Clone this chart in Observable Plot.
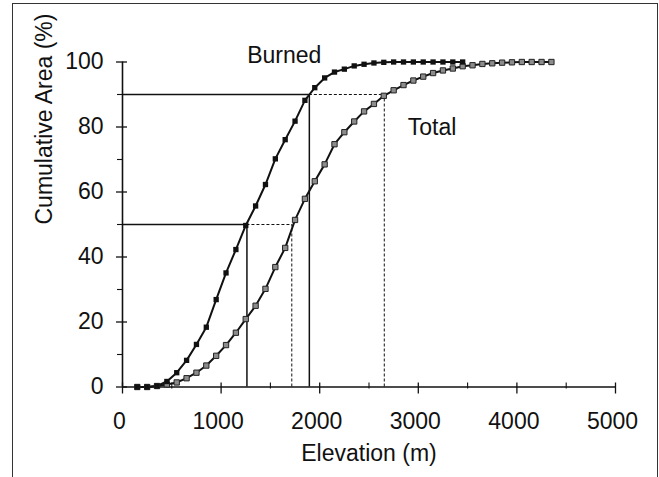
<!DOCTYPE html>
<html>
<head>
<meta charset="utf-8">
<script src="https://cdn.jsdelivr.net/npm/d3@7"></script>
<script src="https://cdn.jsdelivr.net/npm/@observablehq/plot@0.6"></script>
<style>
  html, body { margin: 0; padding: 0; background: #fff; overflow: hidden; }
  #wrap { position: relative; width: 659px; height: 477px; }
  #border { position: absolute; left: 12px; top: 3px; width: 644px; height: 520px; border: 1.5px solid #333; pointer-events: none; }
  #chart { position: absolute; left: 0; top: 0; }
</style>
</head>
<body>
<div id="wrap"><div id="border"></div><div id="chart"></div></div>
<script>
// Elevation bin centres (m)
const burnedElev = [150,250,350,450,550,650,750,850,950,1050,1150,1250,1350,1450,1550,1650,1750,1850,1950,2050,2150,2250,2350,2450,2550,2650,2750,2850,2950,3050,3150,3250,3350,3450];
const burnedPct  = [0,0,0.3,1.7,4.4,8.2,13.1,18.4,26.9,35.1,42.3,49.7,55.7,62.3,70.2,76.1,81.8,88.2,92.1,95.1,96.9,97.8,98.8,99.3,99.7,99.9,100,100,100,100,100,100,100,100];

const totalElev = [150,250,350,450,550,650,750,850,950,1050,1150,1250,1350,1450,1550,1650,1750,1850,1950,2050,2150,2250,2350,2450,2550,2650,2750,2850,2950,3050,3150,3250,3350,3450,3550,3650,3750,3850,3950,4050,4150,4250,4350];
const totalPct  = [0,0,0.3,0.8,1.4,2.7,4.4,6.6,9.6,12.9,16.7,20.9,25.0,30.2,36.9,42.8,51.4,57.9,63.3,68.5,74.7,78.4,81.7,84.8,87.1,89.6,91.3,92.9,94.3,95.5,96.6,97.4,98.0,98.7,99.0,99.4,99.6,99.8,99.9,100,100,100,100];

// Quantile reference lines (50% and 90% of area)
const quantileLevels = [50, 90];
const burnedQuantiles = [1262, 1895];
const totalQuantiles = [1717, 2655];

// Axis ticks
const xMajorTicks = [0, 1000, 2000, 3000, 4000, 5000];
const xMinorTicks = [500, 1500, 2500, 3500, 4500];
const yMajorTicks = [0, 20, 40, 60, 80, 100];
const yMinorTicks = [10, 30, 50, 70, 90];

// Series labels
const seriesNames = ["Burned", "Total"];
const seriesLabelX = [1640, 3140];
const seriesLabelY = [99.8, 77.4];

const burned = burnedElev.map((x, i) => ({x, y: burnedPct[i]}));
const total = totalElev.map((x, i) => ({x, y: totalPct[i]}));
const refs = quantileLevels.map((p, i) => ({p, b: burnedQuantiles[i], t: totalQuantiles[i]}));
const labels = seriesNames.map((name, i) => ({name, x: seriesLabelX[i], y: seriesLabelY[i]}));

const W = 659, H = 477;
const mL = 122, mR = 44, mT = 61.5, mB = 90.5;
const yPerPx = 100 / (H - mT - mB);
const xPerPx = 5000 / (W - mL - mR);
const ink = "#111";

const chart = Plot.plot({
  width: W,
  height: H,
  marginLeft: mL,
  marginRight: mR,
  marginTop: mT,
  marginBottom: mB,
  style: {fontFamily: "'Liberation Sans', Arial, Helvetica, sans-serif", fontSize: "23px", color: ink, background: "transparent"},
  x: {domain: [0, 5000], axis: null},
  y: {domain: [0, 100], axis: null},
  marks: [
    // axis lines
    Plot.ruleY([0], {stroke: ink, strokeWidth: 1.6}),
    Plot.ruleX([0], {stroke: ink, strokeWidth: 1.6}),
    // ticks
    Plot.ruleX(xMajorTicks, {y1: -7 * yPerPx, y2: 4 * yPerPx, stroke: ink, strokeWidth: 1.3}),
    Plot.ruleX(xMinorTicks, {y1: -2 * yPerPx, y2: 4 * yPerPx, stroke: ink, strokeWidth: 1.1}),
    Plot.ruleY(yMajorTicks, {x1: -6 * xPerPx, x2: 5 * xPerPx, stroke: ink, strokeWidth: 1.3}),
    Plot.ruleY(yMinorTicks, {x1: -5 * xPerPx, x2: 1 * xPerPx, stroke: ink, strokeWidth: 1.1}),
    // tick labels
    Plot.axisX({ticks: xMajorTicks, tickSize: 0, tickPadding: 26, tickFormat: d => String(d), label: null, dx: -3}),
    Plot.axisY({ticks: yMajorTicks, tickSize: 0, tickPadding: 19, tickFormat: d => String(d), label: null}),
    // axis titles
    Plot.text(["Elevation (m)"], {frameAnchor: "bottom", dy: 74, lineAnchor: "bottom", fontSize: 23, fill: ink}),
    Plot.text(["Cumulative Area (%)"], {frameAnchor: "left", dx: -78, rotate: -90, fontSize: 23, fill: ink}),
    // quantile reference lines
    Plot.ruleY(refs, {y: "p", x1: 0, x2: "b", stroke: ink, strokeWidth: 1.3}),
    Plot.ruleX(refs, {x: "b", y1: 0, y2: "p", stroke: ink, strokeWidth: 1.5}),
    Plot.ruleY(refs, {y: "p", x1: "b", x2: "t", stroke: ink, strokeWidth: 1, strokeDasharray: "3,2"}),
    Plot.ruleX(refs, {x: "t", y1: 0, y2: "p", stroke: ink, strokeWidth: 1, strokeDasharray: "3,2"}),
    // curves
    Plot.line(total, {x: "x", y: "y", stroke: ink, strokeWidth: 2}),
    Plot.line(burned, {x: "x", y: "y", stroke: ink, strokeWidth: 2}),
    Plot.dot(total, {x: "x", y: "y", symbol: "square", r: 3, fill: "#8c8c8c", stroke: "#222", strokeWidth: 1}),
    Plot.dot(burned, {x: "x", y: "y", symbol: "square", r: 3, fill: "#111", stroke: "none"}),
    // series labels
    Plot.text(labels, {x: "x", y: "y", text: "name", lineAnchor: "bottom", fontSize: 23, fill: ink})
  ]
});
document.getElementById("chart").appendChild(chart);
</script>
</body>
</html>
